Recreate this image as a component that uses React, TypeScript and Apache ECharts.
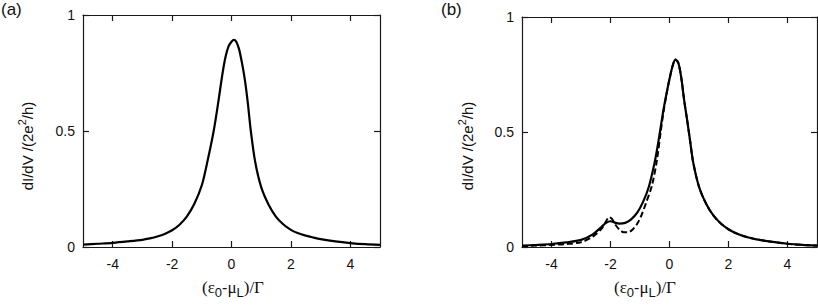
import React, { useEffect, useRef } from "react";
import * as echarts from "echarts";

// Panel (a): single peak
const aX = [-5, -4.5, -4, -3.5, -3, -2.75, -2.5, -2.25, -2, -1.75, -1.5, -1.25, -1, -0.8, -0.6, -0.45, -0.3, -0.2, -0.1, 0, 0.08, 0.16, 0.25, 0.35, 0.45, 0.55, 0.65, 0.8, 1, 1.25, 1.5, 1.75, 2, 2.25, 2.5, 2.75, 3, 3.5, 4, 4.5, 5];
const aY = [0.010, 0.014, 0.018, 0.024, 0.031, 0.037, 0.045, 0.056, 0.072, 0.096, 0.132, 0.186, 0.266, 0.375, 0.50, 0.62, 0.75, 0.82, 0.865, 0.885, 0.893, 0.885, 0.855, 0.795, 0.72, 0.62, 0.50, 0.365, 0.258, 0.182, 0.130, 0.097, 0.074, 0.059, 0.049, 0.041, 0.034, 0.024, 0.017, 0.012, 0.009];

// Panel (b): solid curve
const bX = [-5, -4.5, -4, -3.5, -3, -2.6, -2.3, -2.15, -2.0, -1.85, -1.7, -1.5, -1.3, -1.1, -0.9, -0.7, -0.5, -0.4, -0.3, -0.2, -0.1, 0, 0.1, 0.2, 0.3, 0.4, 0.5, 0.6, 0.7, 0.8, 1, 1.25, 1.5, 1.75, 2, 2.25, 2.5, 2.75, 3, 3.5, 4, 4.5, 5];
const bSolid = [0.006, 0.009, 0.013, 0.02, 0.031, 0.055, 0.088, 0.105, 0.112, 0.106, 0.102, 0.105, 0.12, 0.148, 0.195, 0.262, 0.37, 0.44, 0.52, 0.6, 0.668, 0.73, 0.785, 0.815, 0.80, 0.735, 0.635, 0.55, 0.46, 0.37, 0.262, 0.186, 0.135, 0.101, 0.077, 0.060, 0.048, 0.039, 0.032, 0.022, 0.014, 0.009, 0.006];

// Panel (b): dashed curve
const bDashX = [-5, -4.5, -4, -3.5, -3, -2.6, -2.3, -2.15, -2.05, -1.95, -1.85, -1.7, -1.55, -1.4, -1.25, -1.1, -0.95, -0.8, -0.6, -0.43, -0.3, -0.2, -0.1, 0, 0.1, 0.2, 0.3, 0.4, 0.5, 0.6, 0.7, 0.8, 1, 1.25, 1.5, 1.75, 2, 2.25, 2.5, 2.75, 3, 3.5, 4, 4.5, 5];
const bDashed = [0.004, 0.006, 0.009, 0.013, 0.021, 0.045, 0.08, 0.112, 0.13, 0.122, 0.1, 0.076, 0.064, 0.064, 0.076, 0.1, 0.138, 0.19, 0.265, 0.375, 0.5, 0.59, 0.665, 0.73, 0.785, 0.815, 0.80, 0.735, 0.635, 0.55, 0.46, 0.37, 0.262, 0.186, 0.135, 0.101, 0.077, 0.060, 0.048, 0.039, 0.032, 0.022, 0.014, 0.009, 0.006];

const xTicks = [-4, -2, 0, 2, 4];
const yTicks = [0, 0.5, 1];
const panelLabels = ["(a)", "(b)"];

const SANS = "Liberation Sans, Arial, sans-serif";
const SERIF = "Liberation Serif, Times New Roman, serif";
const AXIS_COLOR = "#1a1a1a";

function mkX(grid: number, pos: "bottom" | "top", labels: boolean) {
  return {
    type: "value",
    gridIndex: grid,
    position: pos,
    min: -5,
    max: 5,
    interval: 1,
    axisLine: { show: true, onZero: false, lineStyle: { color: AXIS_COLOR, width: 1.2 } },
    axisTick: { show: true, inside: true, length: 6, customValues: xTicks, lineStyle: { color: AXIS_COLOR, width: 1.2 } },
    axisLabel: { show: labels, customValues: xTicks, margin: 10, fontSize: 14, color: "#111", fontFamily: SANS },
    splitLine: { show: false },
  };
}

function mkY(grid: number, pos: "left" | "right", labels: boolean) {
  return {
    type: "value",
    gridIndex: grid,
    position: pos,
    min: 0,
    max: 1,
    interval: 0.5,
    axisLine: { show: true, onZero: false, lineStyle: { color: AXIS_COLOR, width: 1.2 } },
    axisTick: { show: true, inside: true, length: 6, customValues: yTicks, lineStyle: { color: AXIS_COLOR, width: 1.2 } },
    axisLabel: { show: labels, customValues: yTicks, margin: 8, fontSize: 14, color: "#111", fontFamily: SANS },
    splitLine: { show: false },
  };
}

const yNameRich = {
  n: { fontSize: 15, fontFamily: SANS, fill: "#111", lineHeight: 22, verticalAlign: "middle" },
  sup: { fontSize: 11, fontFamily: SANS, fill: "#111", lineHeight: 10, verticalAlign: "top" },
};
const yNameText = "{n|dI/dV /(2e}{sup|2}{n|/h)}";

const xNameRich = {
  p: { fontSize: 17, fontFamily: SERIF, fill: "#111", lineHeight: 24, verticalAlign: "middle" },
  m: { fontSize: 16, fontFamily: SANS, fill: "#111", lineHeight: 24, verticalAlign: "middle" },
  s: { fontSize: 13, fontFamily: SANS, fill: "#111", lineHeight: 13, verticalAlign: "bottom" },
};
const xNameText = "{p|(ε}{s|0}{m|-}{p|μ}{s|L}{p|)/Γ}";

export default function App() {
  const ref = useRef<HTMLDivElement>(null);
  useEffect(() => {
    document.body.style.margin = "0";
    const chart = echarts.init(ref.current!, null, { renderer: "svg" });
    const option: any = {
      animation: false,
      backgroundColor: "#fff",
      grid: [
        { left: 83, top: 15, width: 297, height: 232 },
        { left: 522, top: 17, width: 295, height: 230 },
      ],
      xAxis: [mkX(0, "bottom", true), mkX(0, "top", false), mkX(1, "bottom", true), mkX(1, "top", false)],
      yAxis: [mkY(0, "left", true), mkY(0, "right", false), mkY(1, "left", true), mkY(1, "right", false)],
      series: [
        {
          type: "line",
          xAxisIndex: 0,
          yAxisIndex: 0,
          data: aX.map((x, i) => [x, aY[i]]),
          showSymbol: false,
          smooth: 0.3,
          lineStyle: { color: "#000", width: 2.2 },
        },
        {
          type: "line",
          xAxisIndex: 2,
          yAxisIndex: 2,
          data: bDashX.map((x, i) => [x, bDashed[i]]),
          showSymbol: false,
          smooth: 0.3,
          lineStyle: { color: "#000", width: 2, type: [6, 3] },
        },
        {
          type: "line",
          xAxisIndex: 2,
          yAxisIndex: 2,
          data: bX.map((x, i) => [x, bSolid[i]]),
          showSymbol: false,
          smooth: 0.3,
          lineStyle: { color: "#000", width: 2.2 },
        },
      ],
      graphic: [
        { type: "text", x: 1, y: 1, style: { text: panelLabels[0], fontSize: 17, fontFamily: SANS, fill: "#111", align: "left", verticalAlign: "top" } },
        { type: "text", x: 441, y: 1, style: { text: panelLabels[1], fontSize: 17, fontFamily: SANS, fill: "#111", align: "left", verticalAlign: "top" } },
        { type: "text", x: 27, y: 146, rotation: Math.PI / 2, style: { text: yNameText, rich: yNameRich, align: "center", verticalAlign: "middle" } },
        { type: "text", x: 467, y: 146, rotation: Math.PI / 2, style: { text: yNameText, rich: yNameRich, align: "center", verticalAlign: "middle" } },
        { type: "text", x: 233, y: 287, style: { text: xNameText, rich: xNameRich, align: "center", verticalAlign: "middle" } },
        { type: "text", x: 645, y: 287, style: { text: xNameText, rich: xNameRich, align: "center", verticalAlign: "middle" } },
      ],
    };
    chart.setOption(option);
    return () => chart.dispose();
  }, []);
  return <div ref={ref} style={{ width: 818, height: 306 }} />;
}
